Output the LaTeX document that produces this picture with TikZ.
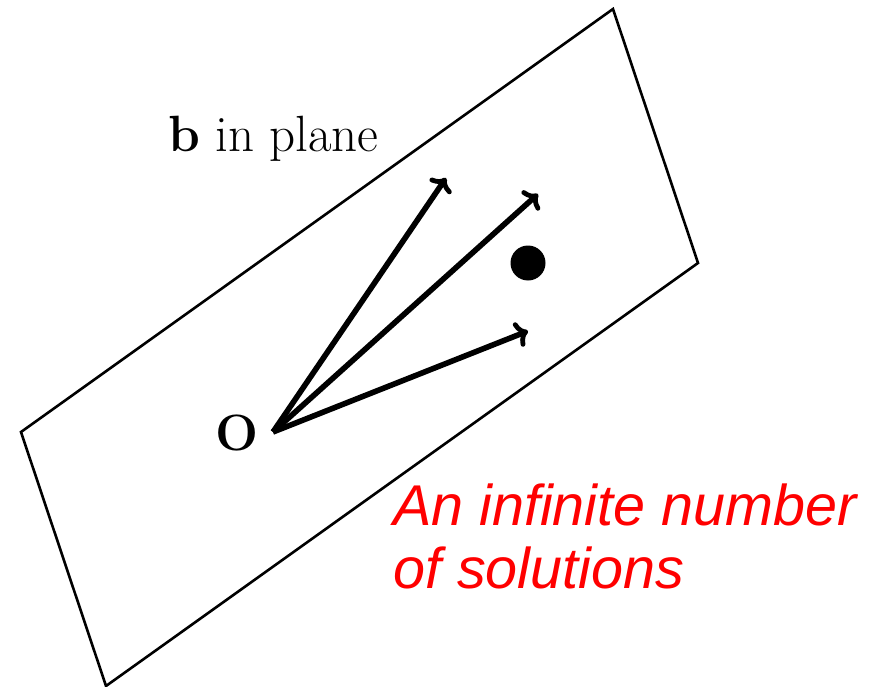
\documentclass[tikz,border=0pt]{standalone}
\usepackage{fontspec}
\newfontfamily\redfont{Liberation Sans}
\usetikzlibrary{arrows.meta}
\begin{document}
\begin{tikzpicture}[x=1pt,y=-1pt,
  planeline/.style={draw=black,line width=2.6pt,line join=miter},
  vec/.style={draw=black,line width=5.6pt,-{Computer Modern Rightarrow[length=12pt,width=26pt,line width=4.8pt]}},
  lbl/.style={inner sep=0pt,font=\fontsize{51}{60}\selectfont},
  redlbl/.style={inner sep=0pt,text=red,align=left,font=\redfont\itshape\fontsize{57.5}{63}\selectfont}]
\useasboundingbox (0,0) rectangle (880,687);
\coordinate (p1) at (613,9);
\coordinate (p2) at (698,263);
\coordinate (p3) at (106,686);
\coordinate (p4) at (21,432);
\draw[planeline] (p1) -- (p2) -- (p3) -- (p4) -- cycle;
\coordinate (o) at (273,432);
\coordinate (t1) at (446,178);
\coordinate (t2) at (538,194);
\coordinate (t3) at (528,331);
\draw[vec] (o) -- (t1);
\draw[vec] (o) -- (t2);
\draw[vec] (o) -- (t3);
\fill (528,263) circle (17.5);
\node[lbl,anchor=base west] (blabel) at (168,152) {\textbf{b} in plane};
\node[lbl,anchor=base] (olabel) at (237,450) {\textbf{O}};
\node[redlbl,anchor=base west] (sol) at (393,588) {An infinite number\\of solutions};
\end{tikzpicture}
\end{document}
